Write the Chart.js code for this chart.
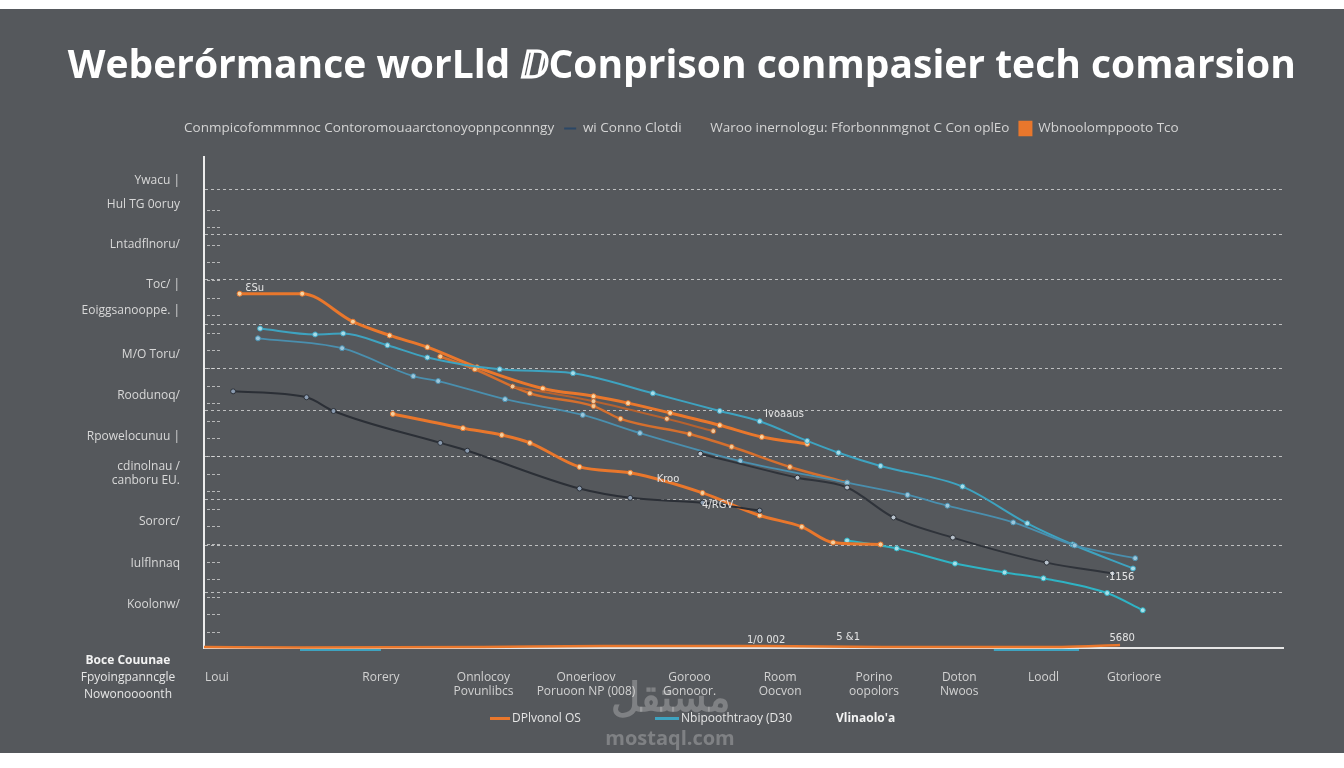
<!DOCTYPE html>
<html>
<head>
<meta charset="utf-8">
<script src="https://cdn.jsdelivr.net/npm/chart.js@4.4.1/dist/chart.umd.min.js"></script>
<style>
  html, body { margin: 0; padding: 0; background: #ffffff; }
  body { width: 1344px; height: 768px; position: relative; overflow: hidden; font-family: "Open Sans", "Noto Sans", sans-serif; }
  #wrap { position: absolute; left: 0; top: 9px; width: 1344px; height: 744px; background: #55585c; }
  #wrap canvas { position: absolute; left: 0; top: 0; }
  .note { position: absolute; color: #e6e6e6; font-size: 12px; white-space: nowrap; }
  .mark { display: inline-block; width: 20px; height: 3px; vertical-align: middle; margin-right: 2px; }
  .wm { position: absolute; color: rgba(205, 205, 205, 0.35); font-weight: bold; text-align: center; }
</style>
</head>
<body>
<div id="wrap">
  <canvas id="perfChart"></canvas>
  <div class="note" style="left:68px; top:642px; width:120px; text-align:center; line-height:17px;">
    <b style="color:#f2f2f2;">Boce Couunae</b><br>Fpyoingpanncgle<br>Nowonoooonth
  </div>
  <div class="note" style="left:490px; top:700px;"><span class="mark" style="background:#e9772c;"></span>DPlvonol OS</div>
  <div class="note" style="left:655px; top:700px;"><span class="mark" style="background:#3ea3c0; width:24px;"></span>Nbipoothtraoy (D30</div>
  <div class="note" style="left:836px; top:700px; font-weight:bold; color:#f4f4f4;">Vlinaolo'a</div>
  <div class="wm" style="left:585px; top:664px; width:170px; font-size:40px; line-height:46px;">مستقل</div>
  <div class="wm" style="left:585px; top:715px; width:170px; font-size:20px;">mostaql.com</div>
</div>
<script>
// values (x: 0-100 along the axis, y: 0-100 score)
const xTickValues = [1.2, 16.4, 25.9, 35.4, 45.0, 53.4, 62.1, 70.0, 77.8, 86.2];
const xLabels = [
  'Loui', 'Rorery', ['Onnlocoy', 'Povunlibcs'], ['Onoerioov', 'Poruoon NP (008)'],
  ['Gorooo', 'Gonooor.'], ['Room', 'Oocvon'], ['Porino', 'oopolors'],
  ['Doton', 'Nwoos'], 'Loodl', 'Gtorioore'
];
const yGridValues = [11.4, 20.9, 30.2, 39.1, 48.3, 57.0, 65.9, 75.0, 84.2, 93.5];
const yLabelValues = [8.9, 17.2, 25.8, 35.5, 43.0, 51.5, 59.8, 68.8, 74.0, 82.2, 90.3, 95.3];
const yLabels = [
  'Koolonw/', 'Iulflnnaq', 'Sororc/', ['cdinolnau /', 'canboru EU.'], 'Rpowelocunuu |',
  'Roodunoq/', 'M/O Toru/', 'Eoiggsanooppe. |', 'Toc/ |', 'Lntadflnoru/', 'Hul TG 0oruy', 'Ywacu |'
];

const orangeTop = [[3.3,72.2],[9.1,72.2],[13.8,66.5],[17.2,63.7],[20.7,61.3],[25.3,57.2],[31.4,52.9],
  [36.1,51.3],[39.3,49.9],[43.2,47.9],[47.8,45.4],[51.7,43.0],[55.9,41.6]];
const tealUpper = [[5.2,65.1],[10.3,63.9],[12.9,64.1],[17.0,61.7],[20.7,59.2],[27.4,56.8],[34.2,56.0],
  [41.6,51.9],[47.8,48.3],[51.5,46.2],[55.9,42.2],[58.8,39.8],[62.7,37.1],[70.3,32.9],[76.3,25.4],
  [80.5,21.1],[86.1,16.2]];
const tealLower = [[5.0,63.1],[12.8,61.1],[19.4,55.4],[21.7,54.4],[27.9,50.7],[35.1,47.5],[40.4,43.8],
  [49.7,38.1],[59.6,33.7],[65.2,31.2],[68.9,29.0],[75.0,25.6],[80.7,20.9],[86.3,18.3]];
const orangeMid = [[21.9,59.4],[25.1,56.8],[30.2,51.9],[36.1,49.3],[38.6,46.7],[45.0,43.6],[48.9,41.0],
  [54.3,36.9],[59.6,33.7]];
const brownShort = [[28.6,53.3],[36.1,50.3],[42.9,46.7],[47.2,44.2]];
const darkUpper = [[2.7,52.3],[9.5,51.1],[12.0,48.3],[21.9,41.8],[24.4,40.2],[34.8,32.5],[39.5,30.6],
  [46.2,29.6],[51.5,28.0]];
const darkLower = [[46.0,39.6],[55.0,34.7],[59.6,32.7],[63.9,26.6],[69.4,22.5],[78.1,17.4],[84.2,15.2]];
const orangeLower = [[17.5,47.7],[24.0,44.8],[27.6,43.4],[30.2,41.8],[34.8,36.9],[39.5,35.7],[46.2,31.6],
  [51.5,27.0],[55.4,24.7],[58.3,21.5],[62.7,21.1]];
const tealTail = [[59.6,21.9],[64.2,20.3],[69.6,17.2],[74.2,15.4],[77.8,14.2],[83.7,11.2],[87.0,7.7]];
const orangeBase = [[0,0.2],[9.0,0.1],[25.8,0.2],[37.0,0.4],[51.9,0.4],[62.9,0.2],[79.5,0.2],[84.9,0.6]];
const tealBase = [[8.9,-0.4],[16.4,-0.4],[40,null],[73.2,-0.4],[81.1,-0.4]];

const pointNotes = [
  [4.7, 73.2, 'ƐSu'], [53.8, 47.7, 'Ivoaaus'], [43.0, 34.3, 'Kroo'], [47.6, 29.0, '4/RGV'],
  [84.9, 14.4, '·1156'], [52.1, 1.6, '1/0 002'], [59.7, 2.2, '5 &1'], [85.1, 2.0, '5680']
];

function pts(arr) {
  return arr.map(p => ({ x: p[0], y: p[1] }));
}

function series(label, arr, color, width, dot) {
  return {
    label: label,
    data: pts(arr),
    borderColor: color,
    borderWidth: width,
    cubicInterpolationMode: 'monotone',
    pointRadius: dot ? 2.5 : 0,
    pointBackgroundColor: dot,
    pointBorderColor: color,
    pointBorderWidth: 1,
    clip: 6
  };
}

// little dashes along the inside of the y axis, and the small texts by the points
const sideMarks = {
  id: 'sideMarks',
  beforeDatasetsDraw(chart) {
    const a = chart.chartArea, c = chart.ctx;
    c.save();
    c.strokeStyle = 'rgba(225,225,225,0.7)';
    c.lineWidth = 1;
    c.setLineDash([3, 2]);
    for (let y = a.bottom - 16; y > a.top + 40; y -= 17.6) {
      c.beginPath();
      c.moveTo(a.left + 3, Math.round(y) + 0.5);
      c.lineTo(a.left + 18, Math.round(y) + 0.5);
      c.stroke();
    }
    c.restore();
  },
  afterDatasetsDraw(chart) {
    const c = chart.ctx, sx = chart.scales.x, sy = chart.scales.y;
    c.save();
    c.fillStyle = '#e4e4e4';
    c.font = '10px "DejaVu Sans"';
    c.textAlign = 'center';
    pointNotes.forEach(n => {
      c.fillText(n[2], sx.getPixelForValue(n[0]), sy.getPixelForValue(n[1]));
    });
    c.restore();
  }
};

const legendGap = {
  id: 'legendGap',
  beforeInit(chart) {
    const fit = chart.legend.fit;
    chart.legend.fit = function () {
      fit.bind(chart.legend)();
      this.height += 12;
    };
  }
};

const legendItems = [
  { text: 'Conmpicofommmnoc Contoromouaarctonoyopnpconnngy', color: 'transparent', style: 'line' },
  { text: 'wi Conno Clotdi', color: '#2b4766', style: 'line' },
  { text: 'Waroo inernologu: Fforbonnmgnot C Con oplEo', color: 'transparent', style: 'line' },
  { text: 'Wbnoolomppooto Tco', color: '#e9772c', style: 'rect' }
];

const yTicks = yGridValues.concat(yLabelValues).sort((a, b) => a - b);

new Chart(document.getElementById('perfChart'), {
  type: 'line',
  data: {
    datasets: [
      series('Base', orangeBase, '#e9772c', 2.5, null),
      series('Base 2', tealBase, '#3ea3c0', 2, null),
      series('Dark A', darkUpper, '#2b2f36', 2, '#8a9bb0'),
      series('Dark B', darkLower, '#2f333a', 2, '#b8c2cc'),
      series('Teal lower', tealLower, '#4a8fae', 1.8, '#9cc7dc'),
      series('Teal upper', tealUpper, '#3ea3c0', 2, '#a8dce8'),
      series('Brown', brownShort, '#b5612f', 2, '#f0c89a'),
      series('Orange mid', orangeMid, '#d46f2e', 2.5, '#f1c996'),
      series('Orange lower', orangeLower, '#e9772c', 3, '#f3cf9f'),
      series('Teal tail', tealTail, '#2fb3c4', 2, '#a8e0ea'),
      series('Orange top', orangeTop, '#e9772c', 3, '#f5d3a3')
    ]
  },
  options: {
    responsive: true,
    maintainAspectRatio: false,
    animation: false,
    events: [],
    layout: { padding: 0 },
    plugins: {
      title: {
        display: true,
        text: '\u2002Weberórmance worLld ⅅConprison conmpasier tech comarsion',
        color: '#ffffff',
        font: { family: '"Open Sans"', size: 39, weight: 'bold' },
        padding: { top: 34, bottom: 22 }
      },
      legend: {
        display: true,
        position: 'top',
        labels: {
          color: '#d4d4d4',
          font: { family: '"Open Sans"', size: 13.5 },
          usePointStyle: true,
          pointStyleWidth: 12,
          padding: 10,
          generateLabels: () => legendItems.map(it => ({
            text: it.text,
            fillStyle: it.color,
            strokeStyle: it.color,
            lineWidth: 2,
            pointStyle: it.style,
            fontColor: '#d4d4d4'
          }))
        }
      },
      tooltip: { enabled: false }
    },
    scales: {
      x: {
        type: 'linear',
        min: 0,
        max: 100,
        afterBuildTicks: scale => { scale.ticks = xTickValues.map(v => ({ value: v })); },
        afterFit: scale => { scale.height = 105; },
        grid: { display: false, drawTicks: false },
        border: { display: true, color: '#e6e6e6', width: 2 },
        ticks: {
          color: '#d2d2d2',
          font: { family: '"Open Sans"', size: 12 },
          padding: 22,
          maxRotation: 0,
          autoSkip: false,
          callback: v => xLabels[xTickValues.indexOf(v)]
        }
      },
      y: {
        type: 'linear',
        min: 0,
        max: 100,
        afterBuildTicks: scale => { scale.ticks = yTicks.map(v => ({ value: v })); },
        afterFit: scale => { scale.width = 204; },
        grid: {
          drawTicks: false,
          lineWidth: 1,
          color: ctx => (ctx.tick && yGridValues.includes(ctx.tick.value)) ? 'rgba(226,226,226,0.75)' : 'transparent'
        },
        border: { display: true, color: '#ececec', width: 2, dash: [3, 3] },
        ticks: {
          color: '#d8d8d8',
          font: { family: '"Open Sans"', size: 12 },
          padding: 24,
          autoSkip: false,
          callback: v => {
            const i = yLabelValues.indexOf(v);
            return i < 0 ? '' : yLabels[i];
          }
        }
      },
      // empty strip on the right, keeps the plot clear of the edge
      yRight: {
        type: 'linear',
        position: 'right',
        display: true,
        min: 0,
        max: 100,
        afterFit: scale => { scale.width = 61; },
        grid: { display: false, drawTicks: false },
        border: { display: false },
        ticks: { display: false }
      }
    }
  },
  plugins: [sideMarks, legendGap]
});
</script>
</body>
</html>
